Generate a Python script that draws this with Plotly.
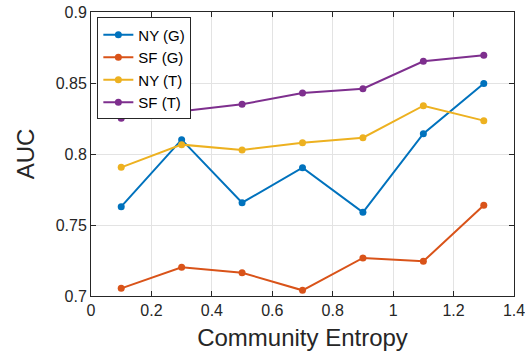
import plotly.graph_objects as go

# Community entropy values (x) and AUC per dataset/model
entropy = [0.1, 0.3, 0.5, 0.7, 0.9, 1.1, 1.3]
ny_g = [0.7629, 0.8101, 0.7657, 0.7904, 0.7589, 0.8143, 0.8497]
sf_g = [0.7054, 0.7202, 0.7164, 0.7040, 0.7268, 0.7244, 0.7639]
ny_t = [0.7906, 0.8066, 0.8028, 0.8080, 0.8115, 0.8340, 0.8235]
sf_t = [0.8251, 0.8301, 0.8350, 0.8430, 0.8460, 0.8653, 0.8695]

series = [
    ("NY (G)", ny_g, "#0072BD"),
    ("SF (G)", sf_g, "#D95319"),
    ("NY (T)", ny_t, "#EDB120"),
    ("SF (T)", sf_t, "#7E2F8E"),
]

x_ticks = [0, 0.2, 0.4, 0.6, 0.8, 1.0, 1.2, 1.4]
x_tick_text = ["0", "0.2", "0.4", "0.6", "0.8", "1", "1.2", "1.4"]
y_ticks = [0.7, 0.75, 0.8, 0.85, 0.9]
y_tick_text = ["0.7", "0.75", "0.8", "0.85", "0.9"]

ink = "#262626"
font_family = "Liberation Sans, Arial, sans-serif"

fig = go.Figure()
for name, vals, color in series:
    fig.add_trace(go.Scatter(
        x=entropy, y=vals, name=name, mode="lines+markers",
        line=dict(color=color, width=2),
        marker=dict(color=color, size=7),
    ))

axis_common = dict(
    showline=True, linecolor=ink, linewidth=1, mirror="ticks",
    ticks="inside", ticklen=5, tickcolor=ink, tickwidth=1,
    showgrid=True, gridcolor="#e3e3e3", gridwidth=1,
    zeroline=False, automargin=False, ticklabeloverflow="allow",
    tickfont=dict(size=16, color=ink, family=font_family),
)

fig.update_xaxes(
    range=[0, 1.4], tickvals=x_ticks, ticktext=x_tick_text,
    title=dict(text="Community Entropy", font=dict(size=24, color=ink, family=font_family), standoff=10),
    **axis_common,
)
fig.update_yaxes(
    range=[0.7, 0.9], tickvals=y_ticks, ticktext=y_tick_text,
    title=dict(text="AUC", font=dict(size=24, color=ink, family=font_family), standoff=14),
    **axis_common,
)

fig.update_layout(
    width=525, height=361,
    margin=dict(l=91, r=11, t=12, b=65),
    paper_bgcolor="white", plot_bgcolor="white",
    font=dict(family=font_family, color=ink),
    legend=dict(
        x=0.015, y=0.981, xanchor="left", yanchor="top",
        bgcolor="white", bordercolor=ink, borderwidth=1,
        font=dict(size=15, color="#000000", family=font_family),
        itemwidth=30, tracegroupgap=0,
    ),
    showlegend=True,
)

fig.write_html("out.html")
